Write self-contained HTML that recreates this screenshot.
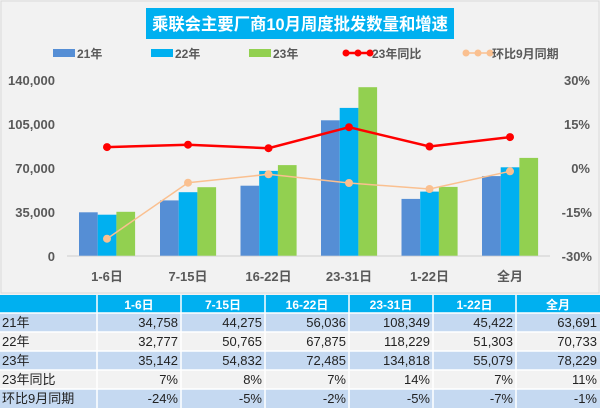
<!DOCTYPE html>
<html><head><meta charset="utf-8"><style>
body{margin:0;width:600px;height:408px;overflow:hidden;background:#f2f2f2;}
svg{display:block}
text{font-family:"Liberation Sans","Noto Sans CJK SC",sans-serif;}
</style></head><body>
<svg width="600" height="408" viewBox="0 0 600 408" xmlns="http://www.w3.org/2000/svg">
<rect x="0" y="0" width="600" height="408" fill="#f2f2f2"/>
<rect x="1" y="1" width="598" height="292" fill="#f2f2f2" stroke="#d9d9d9"/>
<!-- title -->
<rect x="146" y="8" width="308" height="31" fill="#00b0f0"/>
<text x="152" y="30" font-size="17" font-weight="bold" fill="#fff" textLength="296" lengthAdjust="spacingAndGlyphs">乘联会主要厂商10月周度批发数量和增速</text>
<!-- legend -->
<g font-size="12" font-weight="bold" fill="#595959">
<rect x="53" y="49" width="22" height="8" fill="#558ed5"/><text x="77" y="58">21年</text>
<rect x="151" y="49" width="22" height="8" fill="#00b0f0"/><text x="175" y="58">22年</text>
<rect x="249" y="49" width="22" height="8" fill="#92d050"/><text x="273" y="58">23年</text>
<line x1="344" y1="53" x2="372" y2="53" stroke="#ff0000" stroke-width="2.5"/>
<circle cx="346" cy="53" r="3.5" fill="#ff0000"/><circle cx="358" cy="53" r="3.5" fill="#ff0000"/><circle cx="370" cy="53" r="3.5" fill="#ff0000"/>
<text x="372" y="58">23年同比</text>
<line x1="464" y1="53" x2="492" y2="53" stroke="#fac090" stroke-width="1.5"/>
<circle cx="466" cy="53" r="3.5" fill="#fac090"/><circle cx="478" cy="53" r="3.5" fill="#fac090"/><circle cx="490" cy="53" r="3.5" fill="#fac090"/>
<text x="492" y="58">环比9月同期</text>
</g>
<!-- axes labels -->
<g font-size="13" font-weight="bold" fill="#595959" text-anchor="end">
<text x="55" y="85">140,000</text><text x="55" y="129">105,000</text><text x="55" y="173">70,000</text><text x="55" y="217">35,000</text><text x="55" y="261">0</text>
<text x="590" y="85">30%</text><text x="590" y="129">15%</text><text x="590" y="173">0%</text><text x="592" y="217">-15%</text><text x="592" y="261">-30%</text>
</g>
<line x1="67" y1="256" x2="550" y2="256" stroke="#d9d9d9" stroke-width="1.5"/>
<!-- bars -->
<g>
<rect x="79" y="212.3" width="18.7" height="43.4" fill="#558ed5"/><rect x="97.7" y="214.7" width="18.7" height="41" fill="#00b0f0"/><rect x="116.4" y="211.8" width="18.7" height="43.9" fill="#92d050"/>
<rect x="160" y="200.4" width="18.7" height="55.3" fill="#558ed5"/><rect x="178.7" y="192.2" width="18.7" height="63.5" fill="#00b0f0"/><rect x="197.4" y="187.2" width="18.7" height="68.5" fill="#92d050"/>
<rect x="240.5" y="185.7" width="18.7" height="70" fill="#558ed5"/><rect x="259.2" y="170.9" width="18.7" height="84.8" fill="#00b0f0"/><rect x="277.9" y="165.1" width="18.7" height="90.6" fill="#92d050"/>
<rect x="321" y="120.3" width="18.7" height="135.4" fill="#558ed5"/><rect x="339.7" y="107.9" width="18.7" height="147.8" fill="#00b0f0"/><rect x="358.4" y="87.2" width="18.7" height="168.5" fill="#92d050"/>
<rect x="401.5" y="198.9" width="18.7" height="56.8" fill="#558ed5"/><rect x="420.2" y="191.6" width="18.7" height="64.1" fill="#00b0f0"/><rect x="438.9" y="186.9" width="18.7" height="68.8" fill="#92d050"/>
<rect x="482" y="176.1" width="18.7" height="79.6" fill="#558ed5"/><rect x="500.7" y="167.3" width="18.7" height="88.4" fill="#00b0f0"/><rect x="519.4" y="157.9" width="18.7" height="97.8" fill="#92d050"/>
</g>
<!-- 环比 line -->
<polyline points="107,238.7 188,182.7 268.5,174.3 349,183 429.5,189 510,171.3" fill="none" stroke="#fac090" stroke-width="1.5"/>
<g fill="#fac090"><circle cx="107" cy="238.7" r="4"/><circle cx="188" cy="182.7" r="4"/><circle cx="268.5" cy="174.3" r="4"/><circle cx="349" cy="183" r="4"/><circle cx="429.5" cy="189" r="4"/><circle cx="510" cy="171.3" r="4"/></g>
<!-- 同比 line -->
<polyline points="107,147.1 188,144.7 268.5,148.2 349,127.2 429.5,146.5 510,137.1" fill="none" stroke="#ff0000" stroke-width="2.5"/>
<g fill="#ff0000"><circle cx="107" cy="147.1" r="4"/><circle cx="188" cy="144.7" r="4"/><circle cx="268.5" cy="148.2" r="4"/><circle cx="349" cy="127.2" r="4"/><circle cx="429.5" cy="146.5" r="4"/><circle cx="510" cy="137.1" r="4"/></g>
<!-- category labels -->
<g font-size="13" font-weight="bold" fill="#595959" text-anchor="middle">
<text x="107" y="281">1-6日</text><text x="188" y="281">7-15日</text><text x="268.5" y="281">16-22日</text><text x="349" y="281">23-31日</text><text x="429.5" y="281">1-22日</text><text x="510" y="281">全月</text>
</g>
<!-- table -->
<rect x="0" y="295" width="600" height="18" fill="#00b0f0"/>
<rect x="0" y="313" width="600" height="19" fill="#c5d9f1"/>
<rect x="0" y="332" width="600" height="19" fill="#f2f2f2"/>
<rect x="0" y="351" width="600" height="19" fill="#c5d9f1"/>
<rect x="0" y="370" width="600" height="19" fill="#f2f2f2"/>
<rect x="0" y="389" width="600" height="19" fill="#c5d9f1"/>
<g stroke="#fff" stroke-width="1.5">
<line x1="97" y1="295" x2="97" y2="408"/><line x1="181" y1="295" x2="181" y2="408"/><line x1="265" y1="295" x2="265" y2="408"/><line x1="349" y1="295" x2="349" y2="408"/><line x1="433" y1="295" x2="433" y2="408"/><line x1="516" y1="295" x2="516" y2="408"/>
<line x1="0" y1="313" x2="600" y2="313"/><line x1="0" y1="332" x2="600" y2="332"/><line x1="0" y1="351" x2="600" y2="351"/><line x1="0" y1="370" x2="600" y2="370"/><line x1="0" y1="389" x2="600" y2="389"/>
</g>
<g font-size="12" font-weight="bold" fill="#fff" text-anchor="middle">
<text x="139" y="309">1-6日</text><text x="223" y="309">7-15日</text><text x="307" y="309">16-22日</text><text x="391" y="309">23-31日</text><text x="474.5" y="309">1-22日</text><text x="558" y="309">全月</text>
</g>
<g font-size="13" fill="#222">
<text x="2" y="327">21年</text><text x="2" y="346">22年</text><text x="2" y="365">23年</text><text x="2" y="384">23年同比</text><text x="2" y="403">环比9月同期</text>
</g>
<g font-size="13" fill="#222" text-anchor="end">
<text x="178" y="327">34,758</text><text x="262" y="327">44,275</text><text x="346" y="327">56,036</text><text x="430" y="327">108,349</text><text x="513" y="327">45,422</text><text x="597" y="327">63,691</text>
<text x="178" y="346">32,777</text><text x="262" y="346">50,765</text><text x="346" y="346">67,875</text><text x="430" y="346">118,229</text><text x="513" y="346">51,303</text><text x="597" y="346">70,733</text>
<text x="178" y="365">35,142</text><text x="262" y="365">54,832</text><text x="346" y="365">72,485</text><text x="430" y="365">134,818</text><text x="513" y="365">55,079</text><text x="597" y="365">78,229</text>
<text x="178" y="384">7%</text><text x="262" y="384">8%</text><text x="346" y="384">7%</text><text x="430" y="384">14%</text><text x="513" y="384">7%</text><text x="597" y="384">11%</text>
<text x="178" y="403">-24%</text><text x="262" y="403">-5%</text><text x="346" y="403">-2%</text><text x="430" y="403">-5%</text><text x="513" y="403">-7%</text><text x="597" y="403">-1%</text>
</g>
</svg>
</body></html>
